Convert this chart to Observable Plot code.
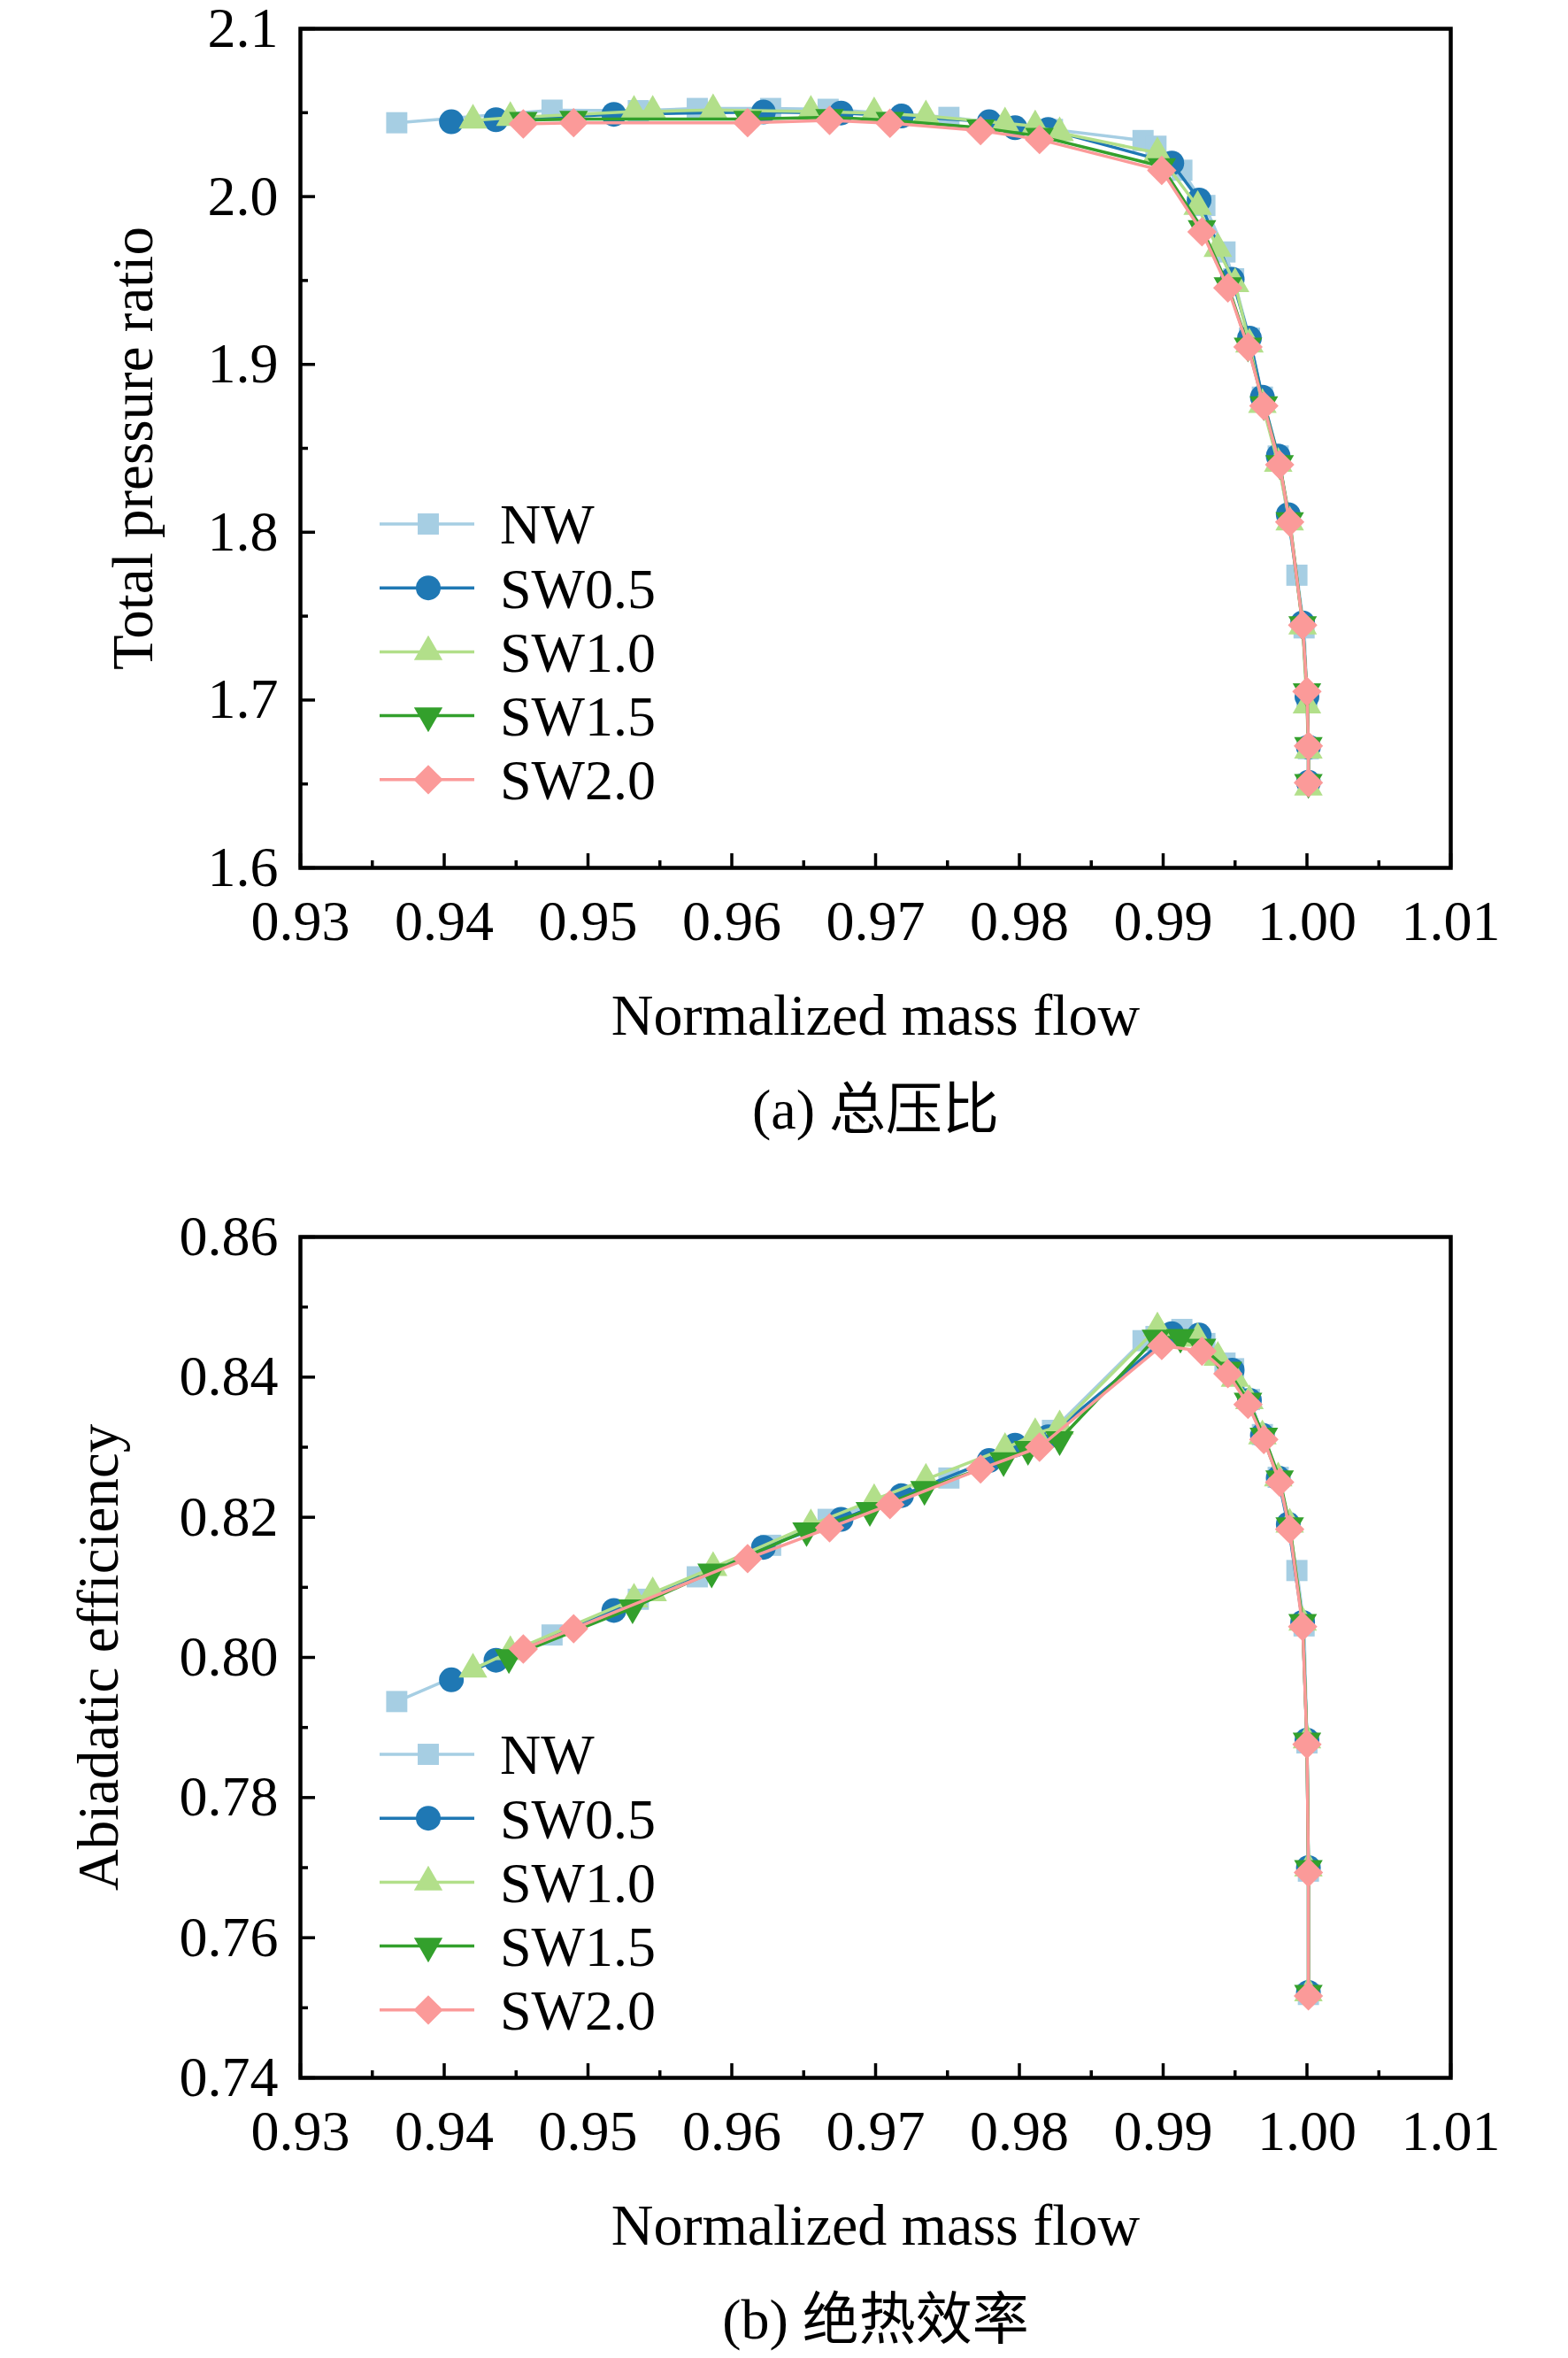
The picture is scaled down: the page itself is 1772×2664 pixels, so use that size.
<!DOCTYPE html>
<html><head><meta charset="utf-8">
<script src="https://cdn.jsdelivr.net/npm/d3@7"></script>
<script src="https://cdn.jsdelivr.net/npm/@observablehq/plot@0.6"></script>
<style>body{margin:0;background:#fff}#chart svg{display:block}</style>
</head><body><div id="chart"></div>
<script>
// ---------- series meta ----------
const seriesNames = ["NW", "SW0.5", "SW1.0", "SW1.5", "SW2.0"];
const seriesColors = ["#a6cee3", "#1f78b4", "#b2df8a", "#33a02c", "#fb9a99"];

// ---------- ticks ----------
const xMajor = [0.93, 0.94, 0.95, 0.96, 0.97, 0.98, 0.99, 1.00, 1.01];
const xMinor = [0.935, 0.945, 0.955, 0.965, 0.975, 0.985, 0.995, 1.005];
const prMajor = [1.6, 1.7, 1.8, 1.9, 2.0, 2.1];
const prMinor = [1.65, 1.75, 1.85, 1.95, 2.05];
const effMajor = [0.74, 0.76, 0.78, 0.80, 0.82, 0.84, 0.86];
const effMinor = [0.75, 0.77, 0.79, 0.81, 0.83, 0.85];

// ---------- data: normalized mass flow ----------
const NW_x   = [0.9367, 0.9475, 0.9535, 0.9576, 0.9627, 0.9667, 0.9751, 0.9823, 0.9886, 0.9895, 0.9913, 0.9929, 0.9943, 0.9949, 0.9960, 0.9969, 0.9980, 0.9993, 0.9998, 1.0000, 1.0001, 1.0001];
const SW05_x = [0.9405, 0.9436, 0.9518, 0.9622, 0.9676, 0.9718, 0.9779, 0.9797, 0.9820, 0.9906, 0.9925, 0.9948, 0.9960, 0.9969, 0.9980, 0.9987, 0.9997, 1.0000, 1.0001, 1.0001];
const SW10_x = [0.9420, 0.9446, 0.9532, 0.9545, 0.9587, 0.9655, 0.9699, 0.9735, 0.9790, 0.9811, 0.9828, 0.9896, 0.9924, 0.9938, 0.9950, 0.9960, 0.9969, 0.9980, 0.9988, 0.9997, 1.0000, 1.0001, 1.0001];
const SW15_x_a = [0.9455, 0.9490, 0.9611, 0.9668, 0.9710, 0.9773, 0.9814, 0.9899, 0.9927, 0.9945, 0.9959, 0.9970, 0.9981, 0.9988, 0.9997, 1.0000, 1.0001, 1.0001];
const SW15_x_b = [0.9445, 0.9531, 0.9586, 0.9652, 0.9696, 0.9734, 0.9789, 0.9806, 0.9828, 0.9895, 0.9912, 0.9927, 0.9945, 0.9959, 0.9970, 0.9981, 0.9988, 0.9997, 1.0000, 1.0001, 1.0001];
const SW20_x = [0.9455, 0.9490, 0.9611, 0.9668, 0.9710, 0.9773, 0.9814, 0.9899, 0.9927, 0.9945, 0.9959, 0.9970, 0.9981, 0.9988, 0.9997, 1.0000, 1.0001, 1.0001];

// ---------- data: total pressure ratio (a) ----------
const NW_pr   = [2.044, 2.0515, 2.0512, 2.0525, 2.0525, 2.052, 2.0472, 2.040, 2.0334, 2.030, 2.0157, 1.9947, 1.967, 1.951, 1.9156, 1.8805, 1.8454, 1.7744, 1.743, 1.702, 1.671, 1.650];
const SW05_pr = [2.0446, 2.0458, 2.049, 2.0504, 2.0498, 2.048, 2.0446, 2.041, 2.040, 2.020, 1.998, 1.9507, 1.9156, 1.8805, 1.8454, 1.8105, 1.746, 1.702, 1.672, 1.651];
const SW10_pr = [2.0454, 2.047, 2.0507, 2.0507, 2.0516, 2.0507, 2.0498, 2.048, 2.0437, 2.042, 2.038, 2.026, 1.994, 1.969, 1.948, 1.912, 1.876, 1.841, 1.806, 1.744, 1.697, 1.670, 1.648];
const SW15_pr = [2.0455, 2.0462, 2.0462, 2.0472, 2.0455, 2.041, 2.036, 2.018, 1.981, 1.947, 1.911, 1.876, 1.841, 1.807, 1.745, 1.705, 1.673, 1.651];
const SW20_pr = [2.0433, 2.044, 2.044, 2.0454, 2.0437, 2.0393, 2.034, 2.0156, 1.979, 1.9456, 1.9104, 1.8753, 1.8402, 1.8061, 1.7446, 1.7051, 1.6726, 1.6507];

// ---------- data: adiabatic efficiency (b) ----------
const NW_eff   = [0.7937, 0.8032, 0.8083, 0.8115, 0.8160, 0.8197, 0.8256, 0.8324, 0.8452, 0.8458, 0.8468, 0.8448, 0.8420, 0.8412, 0.8368, 0.8318, 0.8257, 0.8124, 0.8045, 0.7878, 0.7695, 0.7519];
const SW05_eff = [0.7968, 0.7996, 0.8067, 0.8157, 0.8197, 0.8231, 0.8281, 0.8303, 0.8315, 0.8462, 0.8460, 0.8410, 0.8367, 0.8317, 0.8256, 0.8190, 0.8050, 0.7882, 0.7700, 0.7522];
const SW10_eff = [0.7983, 0.8008, 0.8083, 0.8092, 0.8128, 0.8189, 0.8225, 0.8254, 0.8298, 0.8319, 0.8330, 0.8470, 0.8455, 0.8428, 0.8398, 0.8366, 0.8316, 0.8256, 0.8190, 0.8050, 0.7882, 0.7699, 0.7521];
const SW15_eff = [0.8000, 0.8071, 0.8122, 0.8181, 0.8210, 0.8240, 0.8281, 0.8297, 0.8311, 0.8456, 0.8457, 0.8443, 0.8410, 0.8366, 0.8316, 0.8255, 0.8188, 0.8050, 0.7881, 0.7699, 0.7521];
const SW20_eff = [0.8012, 0.8041, 0.8141, 0.8185, 0.8218, 0.8269, 0.8300, 0.8445, 0.8437, 0.8405, 0.8361, 0.8311, 0.8250, 0.8183, 0.8044, 0.7876, 0.7693, 0.7517];

// ---------- styles ----------
const triangleDown = {
  draw(context, size) {
    const y = -Math.sqrt(size / (Math.sqrt(3) * 3));
    context.moveTo(0, -2 * y);
    context.lineTo(-Math.sqrt(3) * y, y);
    context.lineTo(Math.sqrt(3) * y, y);
    context.closePath();
  }
};
const seriesSymbols = [d3.symbolSquare, d3.symbolCircle, d3.symbolTriangle, triangleDown, d3.symbolDiamond2];
const seriesR = [13.5, 14, 12, 12, 15];
const FONT = '"Liberation Serif", "Times New Roman", "Noto Sans CJK SC", serif';

function panel(cfg) {
  const marks = [];
  cfg.series.forEach((s, i) => {
    const data = s.x.map((v, j) => ({x: v, y: s.y[j]}));
    marks.push(Plot.line(data, {x: "x", y: "y", stroke: seriesColors[i], strokeWidth: 3.5}));
    marks.push(Plot.dot(data, {x: "x", y: "y", fill: seriesColors[i], stroke: "none", r: seriesR[i], symbol: seriesSymbols[i]}));
  });
  marks.push(Plot.frame({stroke: "black", strokeWidth: 4.5}));
  marks.push(Plot.axisX(xMajor, {tickSize: -16, tickPadding: 52, strokeWidth: 3.5, tickFormat: d => d.toFixed(2), label: null}));
  marks.push(Plot.axisX(xMinor, {tickSize: -8, strokeWidth: 3.5, tickFormat: () => "", label: null}));
  marks.push(Plot.axisY(cfg.yMajor, {tickSize: -17, tickPadding: 42, strokeWidth: 3.5, tickFormat: cfg.yFmt, label: null}));
  marks.push(Plot.axisY(cfg.yMinor, {tickSize: -9, strokeWidth: 3.5, tickFormat: () => "", label: null}));
  marks.push(Plot.text([cfg.yTitle], {frameAnchor: "left", dx: cfg.yTitleDx, rotate: -90, textAnchor: "middle", lineAnchor: "bottom", text: d => d, fontSize: 65}));
  marks.push(Plot.text(["Normalized mass flow"], {frameAnchor: "bottom", dy: 188, textAnchor: "middle", lineAnchor: "bottom", text: d => d, fontSize: 66}));
  marks.push(Plot.text([cfg.caption], {frameAnchor: "bottom", dy: 294, textAnchor: "middle", lineAnchor: "bottom", text: d => d, fontSize: 64}));

  const svg = Plot.plot({
    width: 1772,
    height: cfg.height,
    marginLeft: 339,
    marginRight: 133,
    marginTop: cfg.marginTop,
    marginBottom: cfg.marginBottom,
    x: {domain: [0.93, 1.01]},
    y: {domain: cfg.yDomain},
    style: {fontFamily: FONT, fontSize: "64px", color: "black", background: "white", overflow: "visible"},
    marks
  });

  // legend
  const g = d3.select(svg).append("g")
    .attr("font-family", FONT).attr("font-size", 64).attr("text-anchor", "start");
  seriesNames.forEach((name, i) => {
    const y = cfg.legendTop + i * 72.2;
    g.append("line").attr("x1", 429).attr("x2", 536).attr("y1", y).attr("y2", y)
      .attr("stroke", seriesColors[i]).attr("stroke-width", 3.5);
    g.append("path").attr("transform", `translate(484,${y})`)
      .attr("d", d3.symbol(seriesSymbols[i], Math.PI * seriesR[i] * seriesR[i])())
      .attr("fill", seriesColors[i]);
    g.append("text").attr("x", 565).attr("y", y).attr("dy", "0.35em")
      .attr("text-anchor", "start").attr("fill", "black").text(name);
  });
  return svg;
}

const chart = document.getElementById("chart");
chart.appendChild(panel({
  height: 1320, marginTop: 32, marginBottom: 340,
  yDomain: [1.6, 2.1], yMajor: prMajor, yMinor: prMinor, yFmt: d => d.toFixed(1),
  yTitle: "Total pressure ratio", yTitleDx: -168, caption: "(a) 总压比", legendTop: 592,
  series: [
    {x: NW_x, y: NW_pr}, {x: SW05_x, y: SW05_pr}, {x: SW10_x, y: SW10_pr},
    {x: SW15_x_a, y: SW15_pr}, {x: SW20_x, y: SW20_pr}
  ]
}));
chart.appendChild(panel({
  height: 1344, marginTop: 77, marginBottom: 317,
  yDomain: [0.74, 0.86], yMajor: effMajor, yMinor: effMinor, yFmt: d => d.toFixed(2),
  yTitle: "Abiadatic efficiency", yTitleDx: -207, caption: "(b) 绝热效率", legendTop: 662,
  series: [
    {x: NW_x, y: NW_eff}, {x: SW05_x, y: SW05_eff}, {x: SW10_x, y: SW10_eff},
    {x: SW15_x_b, y: SW15_eff}, {x: SW20_x, y: SW20_eff}
  ]
}));
</script>
</body></html>
